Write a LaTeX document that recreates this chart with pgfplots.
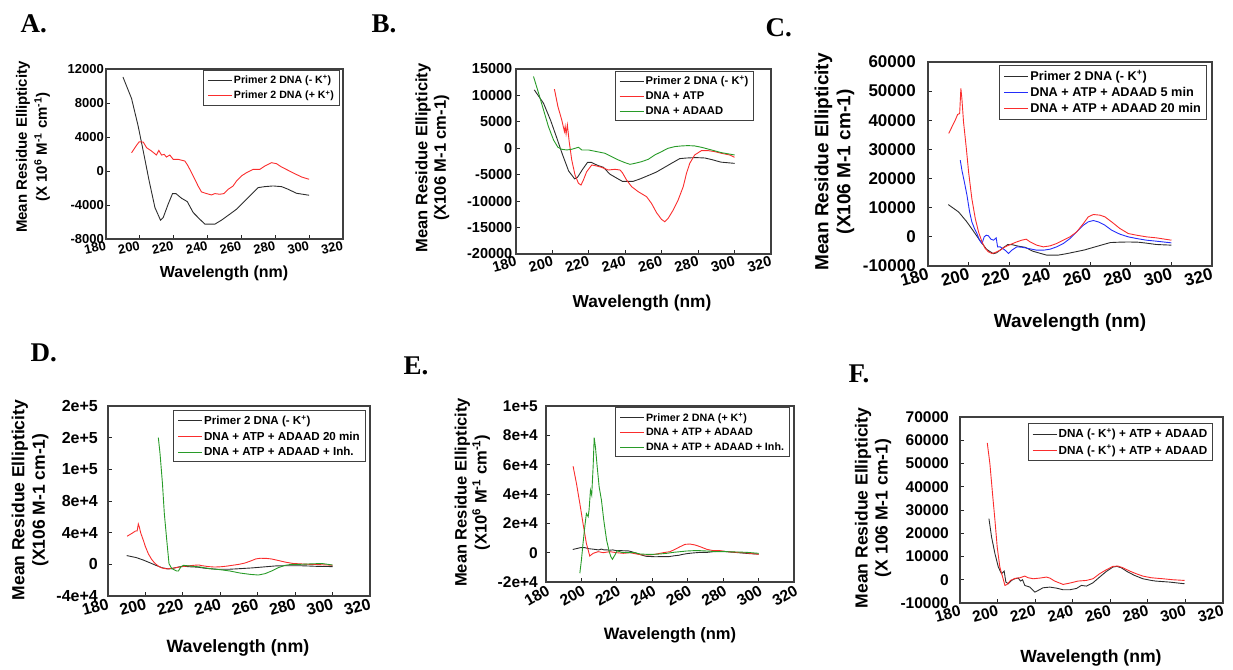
\documentclass[border=0pt]{standalone}
\usepackage{fontspec}
\setmainfont{Liberation Sans}
\newfontfamily\serifb{Liberation Serif}
\usepackage{pgfplots}
\usepackage{pgfplotstable}
\pgfplotsset{compat=1.18}

\definecolor{cdblack}{RGB}{45,45,45}
\definecolor{cdred}{RGB}{250,45,45}
\definecolor{cdgreen}{RGB}{40,155,40}
\definecolor{cdblue}{RGB}{35,45,250}

% Primer 2 DNA (- K+), same trace in A, B, C, D
\pgfplotstableread{
x y
190 11065
195.1 8524
199 5280
202 2346
205.5 -1173
208.9 -4300
212.2 -5787
213.8 -5474
216.7 -3910
219.3 -2659
221.3 -2659
224.6 -3206
228 -3597
231.5 -4888
235.4 -5670
238.4 -6256
241.3 -6256
244.3 -6256
248.2 -5787
253.1 -5083
257.1 -4497
261 -3715
265.9 -2737
269.9 -1955
273.8 -1838
278.7 -1760
283.7 -1838
287.6 -2150
292.5 -2620
300 -2854
}\tblMinusK

% Primer 2 DNA (+ K+), A and E
\pgfplotstableread{
x y
195.1 2150
198 3010
199.6 3440
202 3400
204 2737
206.9 2346
209.8 1877
211.2 2424
212.8 1877
214.4 1955
215.7 1642
217.7 1877
219.7 1368
222.6 1368
226.6 1173
228.5 586
231.5 -586
234.4 -1760
236.4 -2463
239.4 -2659
242.3 -2815
244.3 -2659
247.2 -2737
249.6 -2659
252.2 -2150
255.1 -1760
257.1 -1173
260 -586
263 -195
266.9 195
270.9 195
273.8 586
277.8 977
280.7 860
283.7 469
287.6 78
291.5 -313
295.5 -704
300 -977
}\tblPlusK

% B: DNA + ATP
\pgfplotstableread{
x y
201.1 11186
203 7900
205.1 5372
206.6 3160
207 4108
207.5 2718
208.2 4424
209.2 1264
210.6 -2212
212.4 -5056
214.3 -6636
215.7 -6952
217 -6004
218.8 -4424
221.6 -3160
224.3 -3350
227 -3602
230.7 -4108
234.3 -3982
237.1 -4108
238.4 -4614
240.7 -6004
243.5 -7268
247.1 -8216
251.7 -9164
254.4 -10428
257.2 -12198
259.9 -13462
261.7 -13904
263.5 -13272
266.3 -11692
269 -9796
271.8 -7268
273.6 -4740
275.4 -2844
278.1 -1264
281.8 -442
285.4 -442
289.1 -632
292.7 -948
297.3 -1264
300 -1706
}\tblATP

% B: DNA + ADAAD
\pgfplotstableread{
x y
189.6 13588
192.4 10428
195.1 7268
197.8 4108
200.6 1580
203 190
205.1 -190
207.9 -316
210.6 -190
214.3 190
216.1 -316
219.7 -316
224.3 -632
228.9 -948
232.5 -1580
236.2 -2212
239.8 -2718
242.6 -3034
245.3 -2844
249 -2528
252.6 -2086
256.2 -1264
259.9 -632
263.5 0
267.2 316
270.8 442
274.5 506
278.1 442
281.8 190
287.3 -316
292.7 -822
300 -1264
}\tblADAAD

% C: DNA + ATP + ADAAD 5 min
\pgfplotstableread{
x y
195.9 26300
196.7 22900
197.9 18900
199.2 14300
200.5 8580
201.6 5150
202.9 2860
204.1 1144
205.4 -1144
206.6 -2290
207.7 0
208.7 572
209.8 343
211 -800
212.3 -1144
213.6 -343
214.3 -3430
215.6 -3430
218 -4580
219.7 -5720
221.3 -4580
223.8 -3430
226.2 -3550
229.5 -4000
233.6 -4580
236.9 -4580
240.2 -4230
243.4 -3430
246.7 -2290
250 -572
253.3 1716
256.6 4000
259 5150
261.5 5600
263.9 5150
267.2 4000
270.5 2290
274.6 915
278.7 0
282.8 -572
287.7 -1144
292.6 -1487
300 -2060
}\tblFive

% C and D: DNA + ATP + ADAAD 20 min
\pgfplotstableread{
x y
190.2 35500
191.8 37750
193.4 40000
194.6 42000
195.6 42300
196.2 50900
196.7 47500
197.5 39500
198.9 30300
200 22300
201.6 13150
203.3 6300
204.9 1716
206.6 -1716
208.2 -4000
209.8 -5150
211.5 -5720
213.1 -5380
215.6 -4580
218 -3430
220.5 -2630
223.8 -1716
226.2 -1144
228.4 -800
230.3 -1716
233.6 -2860
236.9 -3430
240.2 -3090
243.4 -2290
246.7 -1144
250 0
253.3 1716
256.6 4580
259 6860
261.5 7670
264.8 7440
267.2 6860
270.5 5150
274.6 2860
278.7 1144
282.8 572
287.7 0
292.6 -343
300 -1144
}\tblTwenty

% D: DNA + ATP + ADAAD + Inh.
\pgfplotstableread{
x y
206.9 160000
207.8 140000
209.1 102000
210.1 64000
211.4 30400
212.6 844
214.1 -5500
215.3 -6750
216.7 -8440
217.6 -8440
218.9 -3376
220.3 -1266
223.8 -2110
229.2 -3376
234.5 -5486
239.9 -6750
245.2 -8440
250.5 -10970
255.9 -12660
260.3 -13500
263.9 -11800
267.4 -8440
271 -4220
274.6 -1266
278.1 0
282.6 0
287 422
291.5 844
295 844
300 -844
}\tblInhD

% E: DNA + ATP + ADAAD
\pgfplotstableread{
x y
195.3 58900
197.2 47100
199.1 33500
200.9 19900
202.8 6300
204.7 -2266
206.6 -450
209.4 680
212.3 0
216 680
219.8 0
223.6 -450
227.4 0
231.1 -906
234.9 -1586
238.7 -1586
242.5 -906
246.2 0
250 680
252.8 2266
255.7 4080
258.5 5665
261.3 5890
264.2 5210
267 4080
270.8 2266
274.5 1360
278.3 1360
282.1 680
287.7 226
293.4 -226
300 -1133
}\tblE

% E: DNA + ATP + ADAAD + Inh.
\pgfplotstableread{
x y
199.1 -14000
200 -5000
200.9 6350
201.9 17700
202.8 26700
203.8 24500
204.3 29000
205.1 42600
205.8 39200
206.6 58500
207.2 78400
207.9 72100
208.9 58500
210 44900
211.3 35800
212.6 22200
214.2 8600
215.7 680
216.6 -2720
217.5 -4530
218.9 -1586
220.2 1360
222.6 226
226.4 0
230.2 0
233 -906
236.8 -1133
240.6 -1133
244.3 -906
248.1 -453
251.9 226
255.7 680
259.4 1133
263.2 1360
267 1360
270.8 1133
276.4 680
282.1 680
287.7 453
293.4 226
300 -453
}\tblInhE

% F: black
\pgfplotstableread{
x y
195.4 26300
196.8 18400
198.6 11200
200.4 5460
202.1 2590
203.5 3740
204.4 -1000
205.7 -1720
207.4 -290
209.2 430
211 720
212.2 -575
213.3 0
214.5 -2440
217.2 -3160
219.8 -5320
221.6 -4600
224.2 -3450
227.8 -3160
231.3 -3600
234.9 -4310
238.4 -4310
242 -3740
244.6 -2440
247.3 -2730
250.8 -1290
254.3 1150
257.9 3590
261.4 5460
263.5 5750
265.8 5170
269.4 3300
272.9 1870
277.3 430
281.8 -290
284.2 -575
291.5 -1000
299.5 -1720
}\tblFblack

% F: red
\pgfplotstableread{
x y
194.5 58900
195.9 50000
197.3 37100
198.6 25600
199.8 14100
201.2 5460
202.7 1150
203.9 -2440
205.1 -2010
206.9 -290
209.2 575
211.9 860
214.5 1580
216.3 860
219 430
222.5 720
226 1150
227.8 720
230.4 -575
234.9 -2010
238.4 -1440
242.8 -575
247.3 -290
250.8 430
254.3 2590
257.9 4310
261.4 5750
264.1 5890
266.7 5170
270.3 3740
273.8 2590
277.3 1580
281.8 860
288 430
293.3 0
299.5 -290
}\tblFred

\newcommand{\bfs}[1]{\fontsize{#1}{#1}\selectfont\bfseries}
\tikzset{frame/.style={draw=black!75, line width=1.1pt}}

\pgfplotsset{
  cd/.style={
    scale only axis,
    anchor=south west,
    xmin=180, xmax=320,
    xtick={180,200,...,320},
    xticklabels={180,200,220,240,260,280,300,320},
    scaled y ticks=false,
    tick align=inside,
    xtick pos=bottom,
    ytick pos=left,
    major tick length=4pt,
    tick style={black!85, line width=0.8pt},
    axis background/.style={draw=black!80, line width=1pt},
    xlabel={Wavelength (nm)},
    ylabel style={align=center, anchor=center},
    xlabel style={anchor=center},
    xticklabel style={anchor=north east, inner sep=1.5pt},
    legend cell align=left,
    legend image code/.code={\draw[##1] (0pt,0pt) -- (24pt,0pt);},
    every axis plot/.append style={line width=0.9pt},
    legend style={draw=black!75, line width=1pt, fill=white,
      inner xsep=4pt, inner ysep=3.5pt, row sep=2.5pt,
      nodes={inner sep=1.5pt}, anchor=north east},
  },
}

\begin{document}
\begin{tikzpicture}[x=1pt,y=1pt]
\useasboundingbox (0,0) rectangle (1233,669);

\node[font=\fontsize{27}{27}\serifb\bfseries, anchor=base west] at (17,636) {A.};
\node[font=\fontsize{27}{27}\serifb\bfseries, anchor=base west] at (368,636) {B.};
\node[font=\fontsize{27}{27}\serifb\bfseries, anchor=base west] at (762,632) {C.};
\node[font=\fontsize{27}{27}\serifb\bfseries, anchor=base west] at (27,307) {D.};
\node[font=\fontsize{27}{27}\serifb\bfseries, anchor=base west] at (400,294) {E.};
\node[font=\fontsize{27}{27}\serifb\bfseries, anchor=base west] at (845,286) {F.};

% ---------------- A
\begin{axis}[cd, at={(106pt,430pt)}, width=237pt, height=170pt,
  ymin=-8000, ymax=12000, ytick={-8000,-4000,...,12000},
  yticklabels={-8000,-4000,0,4000,8000,12000},
  tick label style={font=\bfs{13}},
  xticklabel style={rotate=12},
  yticklabel style={inner sep=2pt},
  ylabel={Mean Residue Ellipticity\\(X 10\textsuperscript{6} M\textsuperscript{-1} cm\textsuperscript{-1})},
  ylabel style={at={(axis description cs:-0.308,0.541)}, font=\fontsize{15}{20}\selectfont\bfseries},
  xlabel style={at={(axis description cs:0.498,-0.2)}, font=\bfs{16}},
  legend style={at={(0.987,0.995)}, font=\bfs{10.6}}]
\addplot[cdblack] table[x=x,y=y] {\tblMinusK};
\addlegendentry{Primer 2 DNA (- K\textsuperscript{+})}
\addplot[cdred] table[x=x,y=y] {\tblPlusK};
\addlegendentry{Primer 2 DNA (+ K\textsuperscript{+})}
\end{axis}
\draw[frame] (106,430) rectangle +(237,170);

% ---------------- B
\begin{axis}[cd, at={(516pt,415pt)}, width=255pt, height=185pt,
  ymin=-20000, ymax=15000, ytick={-20000,-15000,...,15000},
  yticklabels={-20000,-15000,-10000,-5000,0,5000,10000,15000},
  tick label style={font=\bfs{14.5}},
  xticklabel style={rotate=15},
  yticklabel style={inner sep=3.5pt},
  ylabel={Mean Residue Ellipticity\\(X106 M-1 cm-1)},
  ylabel style={at={(axis description cs:-0.328,0.519)}, font=\fontsize{16.5}{18.5}\selectfont\bfseries},
  xlabel style={at={(axis description cs:0.494,-0.265)}, font=\bfs{17.3}},
  legend style={at={(0.935,0.991)}, font=\bfs{11.2}}]
\addplot[cdblack] table[x=x,y=y] {\tblMinusK};
\addlegendentry{Primer 2 DNA (- K\textsuperscript{+})}
\addplot[cdred] table[x=x,y=y] {\tblATP};
\addlegendentry{DNA + ATP}
\addplot[cdgreen] table[x=x,y=y] {\tblADAAD};
\addlegendentry{DNA + ADAAD}
\end{axis}
\draw[frame] (516,415) rectangle +(255,185);

% ---------------- C
\begin{axis}[cd, at={(928pt,403pt)}, width=284pt, height=204pt,
  ymin=-10000, ymax=60000, ytick={-10000,0,...,60000},
  yticklabels={-10000,0,10000,20000,30000,40000,50000,60000},
  tick label style={font=\bfs{17}},
  xticklabel style={rotate=15},
  yticklabel style={inner sep=2pt, xshift=-10pt},
  ylabel={Mean Residue Ellipticity\\(X106 M-1 cm-1)},
  ylabel style={at={(axis description cs:-0.329,0.51)}, font=\fontsize{19}{22}\selectfont\bfseries},
  xlabel style={at={(axis description cs:0.5,-0.279)}, font=\bfs{19}},
  legend style={at={(0.982,0.985)}, font=\bfs{12.7}}]
\addplot[cdblack] table[x=x,y=y] {\tblMinusK};
\addlegendentry{Primer 2 DNA (- K\textsuperscript{+})}
\addplot[cdblue] table[x=x,y=y] {\tblFive};
\addlegendentry{DNA + ATP + ADAAD 5 min}
\addplot[cdred] table[x=x,y=y] {\tblTwenty};
\addlegendentry{DNA + ATP + ADAAD 20 min}
\end{axis}
\draw[frame] (928,403) rectangle +(284,204);

% ---------------- D
\begin{axis}[cd, at={(108pt,73pt)}, width=262pt, height=190pt,
  ymin=-40000, ymax=200000, ytick={-40000,0,...,200000},
  yticklabels={-4e+4,0,4e+4,8e+4,1e+5,2e+5,2e+5},
  tick label style={font=\bfs{16}},
  xticklabel style={rotate=15},
  yticklabel style={inner sep=2pt, xshift=-8pt},
  ylabel={Mean Residue Ellipticity\\(X106 M-1 cm-1)},
  ylabel style={at={(axis description cs:-0.297,0.505)}, font=\fontsize{17.5}{20.5}\selectfont\bfseries},
  xlabel style={at={(axis description cs:0.496,-0.274)}, font=\bfs{17.8}},
  legend style={at={(0.984,0.979)}, font=\bfs{11.6}}]
\addplot[cdblack] table[x=x,y=y] {\tblMinusK};
\addlegendentry{Primer 2 DNA (- K\textsuperscript{+})}
\addplot[cdred] table[x=x,y=y] {\tblTwenty};
\addlegendentry{DNA + ATP + ADAAD 20 min}
\addplot[cdgreen] table[x=x,y=y] {\tblInhD};
\addlegendentry{DNA + ATP + ADAAD + Inh.}
\end{axis}
\draw[frame] (108,73) rectangle +(262,190);

% ---------------- E
\begin{axis}[cd, at={(546pt,87pt)}, width=248pt, height=176pt,
  ymin=-20000, ymax=100000, ytick={-20000,0,...,100000},
  yticklabels={-2e+4,0,2e+4,4e+4,6e+4,8e+4,1e+5},
  tick label style={font=\bfs{15.5}},
  xticklabel style={rotate=30},
  yticklabel style={inner sep=2pt, xshift=-6pt},
  ylabel={Mean Residue Ellipticity\\(X10\textsuperscript{6} M\textsuperscript{-1} cm\textsuperscript{-1})},
  ylabel style={at={(axis description cs:-0.297,0.509)}, font=\fontsize{16.5}{20}\selectfont\bfseries},
  xlabel style={at={(axis description cs:0.5,-0.301)}, font=\bfs{16.5}},
  legend style={at={(0.984,0.993)}, font=\bfs{10.7}}]
\addplot[cdblack] table[x=x,y=y] {\tblPlusK};
\addlegendentry{Primer 2 DNA (+ K\textsuperscript{+})}
\addplot[cdred] table[x=x,y=y] {\tblE};
\addlegendentry{DNA + ATP + ADAAD}
\addplot[cdgreen] table[x=x,y=y] {\tblInhE};
\addlegendentry{DNA + ATP + ADAAD + Inh.}
\end{axis}
\draw[frame] (546,87) rectangle +(248,176);

% ---------------- F
\begin{axis}[cd, at={(960pt,66pt)}, width=263pt, height=186pt,
  ymin=-10000, ymax=70000, ytick={-10000,0,...,70000},
  yticklabels={-10000,0,10000,20000,30000,40000,50000,60000,70000},
  tick label style={font=\bfs{15.5}},
  xticklabel style={rotate=15},
  yticklabel style={inner sep=2pt, xshift=-9pt},
  ylabel={Mean Residue Ellipticity\\(X 106 M-1 cm-1)},
  ylabel style={at={(axis description cs:-0.33,0.511)}, font=\fontsize{17.5}{20}\selectfont\bfseries},
  xlabel style={at={(axis description cs:0.498,-0.296)}, font=\bfs{17.6}},
  legend style={at={(0.963,0.966)}, font=\bfs{11.7}}]
\addplot[cdblack] table[x=x,y=y] {\tblFblack};
\addlegendentry{DNA (- K\textsuperscript{+}) + ATP + ADAAD}
\addplot[cdred] table[x=x,y=y] {\tblFred};
\addlegendentry{DNA (- K\textsuperscript{+}) + ATP + ADAAD}
\end{axis}
\draw[frame] (960,66) rectangle +(263,186);
\end{tikzpicture}
\end{document}
